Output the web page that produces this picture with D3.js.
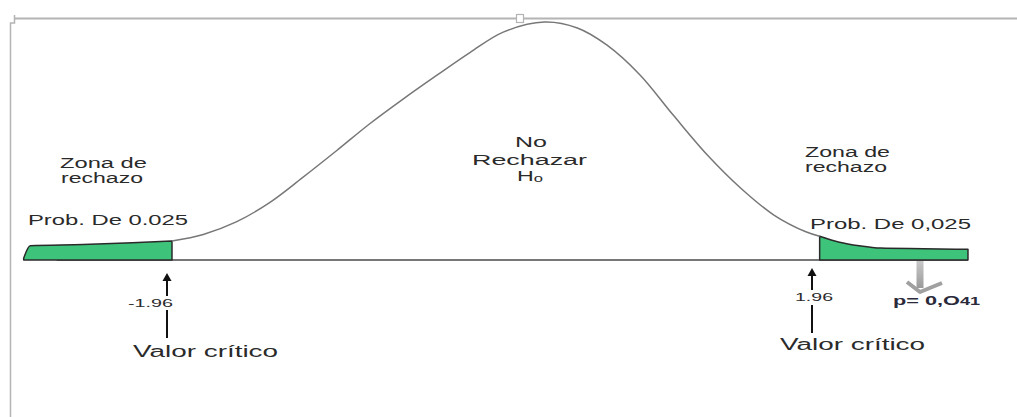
<!DOCTYPE html>
<html>
<head>
<meta charset="utf-8">
<script src="https://cdnjs.cloudflare.com/ajax/libs/d3/7.8.5/d3.min.js"></script>
<style>
    body { margin: 0; background: #fff; }
    text { font-family: "Liberation Sans", Arial, sans-serif; fill: #2a2a2a; }
</style>
</head>
<body>
<div id="chart"></div>
<script>

// curve: z position and density height
var curveZ = [-1.96, -1.77, -1.57, -1.37, -1.17, -0.96, -0.76, -0.56, -0.35, -0.15, 0.05, 0.30, 0.50, 0.68, 0.88, 1.08, 1.29, 1.49, 1.69, 1.89, 1.97];
var curveD = [0.032, 0.043, 0.064, 0.096, 0.138, 0.184, 0.229, 0.270, 0.311, 0.349, 0.383, 0.400, 0.390, 0.361, 0.311, 0.244, 0.176, 0.121, 0.076, 0.047, 0.040];

// shaded rejection tails
var leftTailZ = [-2.86, -2.82, -2.5, -2.2, -1.96];
var leftTailD = [0.003, 0.024, 0.026, 0.029, 0.032];
var rightTailZ = [1.97, 2.09, 2.21, 2.34, 2.6, 2.87];
var rightTailD = [0.040, 0.030, 0.024, 0.020, 0.019, 0.018];

// baseline extent
var baseZ = [-2.66, 2.87];

// critical values
var critZ = [-1.96, 1.96];
var critLabels = ["-1.96", "1.96"];
var critText = "Valor crítico";

// labels
var zoneLines = ["Zona de", "rechazo"];
var probLabels = ["Prob. De 0.025", "Prob. De 0,025"];
var centerLines = ["No", "Rechazar"];
var pLabel = ["p= 0,O", "41"];


var width = 1017;
var height = 417;

var x = d3.scaleLinear()
    .domain([-3, 3])
    .range([0.6, 989.4]);

var y = d3.scaleLinear()
    .domain([0, 0.4])
    .range([260, 22]);

var green = "#3ec47a";

var svg = d3.select("#chart")
    .append("svg")
    .attr("width", width)
    .attr("height", height);

// frame of the pasted picture
svg.append("path")
    .attr("d", "M15,18.5H1017")
    .attr("fill", "none")
    .attr("stroke", "#b4b4b4")
    .attr("stroke-width", 2);

svg.append("path")
    .attr("d", "M14.5,15V23H10.5V417")
    .attr("fill", "none")
    .attr("stroke", "#b4b4b4")
    .attr("stroke-width", 1.5);

svg.append("rect")
    .attr("x", 516.5)
    .attr("y", 14.5)
    .attr("width", 7)
    .attr("height", 8)
    .attr("fill", "#fff")
    .attr("stroke", "#b4b4b4")
    .attr("stroke-width", 1.2);

// baseline
svg.append("line")
    .attr("x1", x(baseZ[0]))
    .attr("x2", x(baseZ[1]))
    .attr("y1", y(0))
    .attr("y2", y(0))
    .attr("stroke", "#777")
    .attr("stroke-width", 2);

var area = d3.area()
    .x(function(d) { return x(d[0]); })
    .y0(y(0))
    .y1(function(d) { return y(d[1]); })
    .curve(d3.curveMonotoneX);

svg.append("path")
    .datum(d3.zip(leftTailZ, leftTailD))
    .attr("d", area)
    .attr("fill", green)
    .attr("stroke", "#2a2a2a")
    .attr("stroke-width", 1.5)
    .attr("stroke-linejoin", "round");

svg.append("path")
    .datum(d3.zip(rightTailZ, rightTailD))
    .attr("d", area)
    .attr("fill", green)
    .attr("stroke", "#2a2a2a")
    .attr("stroke-width", 1.5)
    .attr("stroke-linejoin", "round");

// the bell curve
var line = d3.line()
    .x(function(d) { return x(d[0]); })
    .y(function(d) { return y(d[1]); })
    .curve(d3.curveCatmullRom.alpha(0.5));

svg.append("path")
    .datum(d3.zip(curveZ, curveD))
    .attr("d", line)
    .attr("fill", "none")
    .attr("stroke", "#777")
    .attr("stroke-width", 1.5);

// text helper: stretched like the original picture
function label(txt, px, py, size, len) {
    return svg.append("text")
        .attr("x", px)
        .attr("y", py)
        .attr("font-size", size)
        .attr("textLength", len)
        .attr("lengthAdjust", "spacingAndGlyphs")
        .text(txt);
}

// zone labels
label(zoneLines[0], 60, 168, 14, 87);
label(zoneLines[1], 61, 183, 14, 82);
label(zoneLines[0], 805, 157, 14, 85);
label(zoneLines[1], 805, 172, 14, 82);

label(probLabels[0], 28, 225, 15, 160);
label(probLabels[1], 810, 229, 15, 161);

label(centerLines[0], 515, 147, 14, 32);
label(centerLines[1], 472, 165, 14, 115);

var h0 = svg.append("text")
    .attr("x", 517)
    .attr("y", 181)
    .attr("font-size", 14)
    .attr("textLength", 26)
    .attr("lengthAdjust", "spacingAndGlyphs");
h0.append("tspan").text("H");
h0.append("tspan")
    .attr("font-size", 10)
    .attr("dy", 1)
    .text("o");

// critical value arrows
var arrowLayout = [
    { dx: -5, tip: 273, headBase: 281, upperEnd: 296, labelX: 128, labelY: 307, labelLen: 45, lowerStart: 310, lowerEnd: 338, textX: 133, textY: 357 },
    { dx: -6, tip: 268, headBase: 276, upperEnd: 290, labelX: 795, labelY: 301, labelLen: 38, lowerStart: 305, lowerEnd: 333, textX: 780, textY: 350 }
];

critZ.forEach(function(z, i) {
    var a = arrowLayout[i];
    var cx = x(z) + a.dx;

    svg.append("path")
        .attr("d", "M" + cx + "," + a.tip + "L" + (cx - 4.5) + "," + a.headBase + "L" + (cx + 4.5) + "," + a.headBase + "Z")
        .attr("fill", "#111");

    svg.append("line")
        .attr("x1", cx).attr("x2", cx)
        .attr("y1", a.headBase).attr("y2", a.upperEnd)
        .attr("stroke", "#111")
        .attr("stroke-width", 2);

    svg.append("line")
        .attr("x1", cx).attr("x2", cx)
        .attr("y1", a.lowerStart).attr("y2", a.lowerEnd)
        .attr("stroke", "#111")
        .attr("stroke-width", 2);

    label(critLabels[i], a.labelX, a.labelY, 11, a.labelLen);
    label(critText, a.textX, a.textY, 16, 145);
});

// grey arrow pointing to the p value
var px = 920;
var grad = svg.append("defs")
    .append("linearGradient")
    .attr("id", "greyShaft")
    .attr("x1", 0).attr("x2", 0)
    .attr("y1", 0).attr("y2", 1);
grad.append("stop").attr("offset", "0%").attr("stop-color", "#c8c8c8");
grad.append("stop").attr("offset", "100%").attr("stop-color", "#9a9a9a");

svg.append("rect")
    .attr("x", px - 3.5)
    .attr("y", y(0) + 1)
    .attr("width", 7)
    .attr("height", 27)
    .attr("fill", "url(#greyShaft)");

svg.append("path")
    .attr("d", "M" + (px - 13) + ",282L" + px + ",292L" + (px + 22) + ",283")
    .attr("fill", "none")
    .attr("stroke", "#a0a0a0")
    .attr("stroke-width", 4)
    .attr("stroke-linejoin", "round");

var pt = svg.append("text")
    .attr("x", 893)
    .attr("y", 305)
    .attr("font-size", 12)
    .attr("font-weight", "bold")
    .attr("textLength", 87)
    .attr("lengthAdjust", "spacingAndGlyphs")
    .style("fill", "#2a2a3a");
pt.append("tspan").text(pLabel[0]);
pt.append("tspan").attr("font-size", 10).text(pLabel[1]);

</script>
</body>
</html>
